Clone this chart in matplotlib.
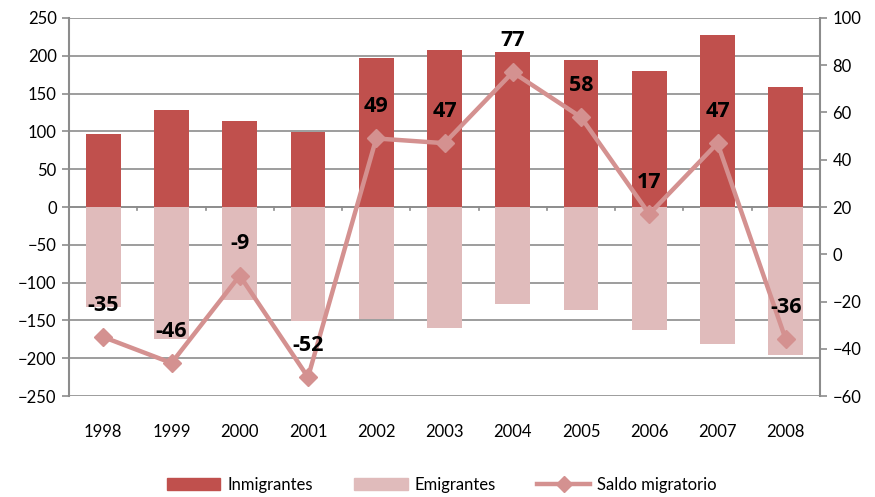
import matplotlib.pyplot as plt
from matplotlib.lines import Line2D
from matplotlib.patches import Patch
import numpy as np

plt.rcParams['font.family'] = ['Lato', 'DejaVu Sans']

# data
years = ['1998', '1999', '2000', '2001', '2002', '2003', '2004', '2005', '2006', '2007', '2008']
inmigrantes = [97, 128, 114, 99, 197, 207, 205, 194, 180, 228, 159]
emigrantes = [-132, -174, -123, -151, -148, -160, -128, -136, -163, -181, -195]
saldo = [-35, -46, -9, -52, 49, 47, 77, 58, 17, 47, -36]

c_inm = '#C0504D'
c_emi = '#E0BBBB'
c_saldo = '#D49190'
grid_c = '#8C8C8C'

fig, ax = plt.subplots(figsize=(8.75, 4.97), dpi=100)
fig.subplots_adjust(left=0.079, right=0.937, top=0.964, bottom=0.203)

x = np.arange(len(years))
ax.bar(x, inmigrantes, width=0.51, color=c_inm, zorder=2)
ax.bar(x, emigrantes, width=0.51, color=c_emi, zorder=2)

ax.set_xlim(-0.5, len(years) - 0.5)
ax.set_ylim(-250, 250)
ax.set_yticks(range(-250, 251, 50))
ax.yaxis.grid(True, color=grid_c, linewidth=1.2, zorder=0)
ax.axhline(0, color=grid_c, linewidth=1.2, zorder=1)

# category tick marks sit on the zero line, labels at the bottom
ax.set_xticks([])
for b in np.arange(0.5, len(years) - 1, 1.0):
    ax.plot([b, b], [0, -4], color=grid_c, linewidth=1.2, zorder=1, clip_on=False)
for i, y in enumerate(years):
    ax.text(i, -0.095, y, transform=ax.get_xaxis_transform(), ha='center', va='center',
            fontsize=12)

for s in ['top', 'bottom']:
    ax.spines[s].set_visible(False)
ax.spines['left'].set_color(grid_c)
ax.spines['left'].set_linewidth(1.5)
ax.spines['right'].set_visible(False)
ax.tick_params(axis='y', length=5, color=grid_c, width=1.2, labelsize=12, pad=4)

ax2 = ax.twinx()
ax2.plot(x, saldo, color=c_saldo, linewidth=3.2, marker='D', markersize=9, zorder=3)
ax2.set_ylim(-60, 100)
ax2.set_yticks(range(-60, 101, 20))
for s in ['top', 'bottom', 'left']:
    ax2.spines[s].set_visible(False)
ax2.spines['right'].set_color(grid_c)
ax2.spines['right'].set_linewidth(1.5)
ax2.tick_params(axis='y', length=5, color=grid_c, width=1.2, labelsize=12, pad=4)

for i, v in enumerate(saldo):
    ax2.annotate(str(v), (i, v), xytext=(0, 23), textcoords='offset points',
                 ha='center', va='center', fontsize=15.5, fontweight='bold',
                 family=['Open Sans', 'DejaVu Sans'])

handles = [Patch(color=c_inm), Patch(color=c_emi),
           Line2D([], [], color=c_saldo, linewidth=3.2, marker='D', markersize=8)]
fig.legend(handles, ['Inmigrantes', 'Emigrantes', 'Saldo migratorio'], loc='center',
           bbox_to_anchor=(0.505, 0.025), ncol=3, frameon=False, fontsize=12,
           handlelength=3.2, columnspacing=2.5, handletextpad=0.4)

fig.savefig('out.png', dpi=100)
